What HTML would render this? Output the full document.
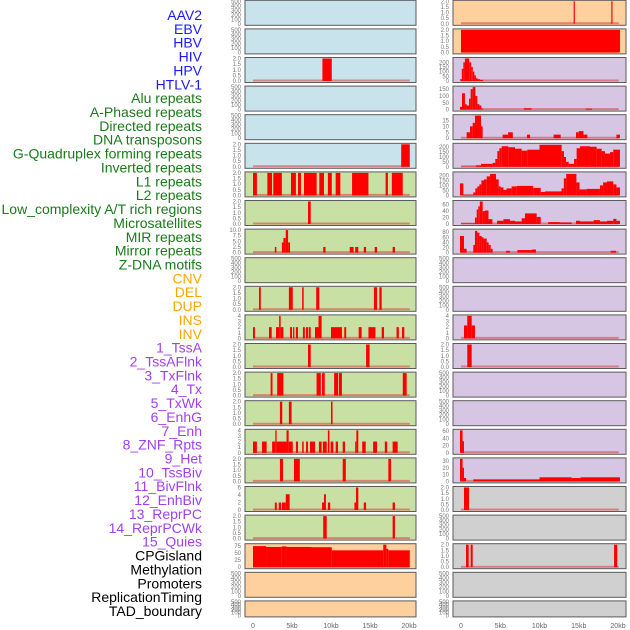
<!DOCTYPE html>
<html><head><meta charset="utf-8"><style>
html,body{margin:0;padding:0;background:#fff;}
svg{display:block;font-family:"Liberation Sans",sans-serif;}
</style></head><body>
<svg id="chart" width="630" height="630" viewBox="0 0 630 630" xmlns="http://www.w3.org/2000/svg"></svg>
<script>
// ---- data ----
const trackLabels = ["AAV2","EBV","HBV","HIV","HPV","HTLV-1","Alu repeats","A-Phased repeats","Directed repeats","DNA transposons","G-Quadruplex forming repeats","Inverted repeats","L1 repeats","L2 repeats","Low_complexity A/T rich regions","Microsatellites","MIR repeats","Mirror repeats","Z-DNA motifs","CNV","DEL","DUP","INS","INV","1_TssA","2_TssAFlnk","3_TxFlnk","4_Tx","5_TxWk","6_EnhG","7_Enh","8_ZNF_Rpts","9_Het","10_TssBiv","11_BivFlnk","12_EnhBiv","13_ReprPC","14_ReprPCWk","15_Quies","CPGisland","Methylation","Promoters","ReplicationTiming","TAD_boundary"];
const labelGroups = [6,13,5,15,5];
const labelColors = ["#1a1aff","#1a7a1a","#ffa500","#a040f0","#000000"];
const xTickValues = [0,5,10,15,20];
const xTickLabels = ["0","5kb","10kb","15kb","20kb"];
const leftBg = ["b","b","b","b","b","b","g","g","g","g","g","g","g","g","g","g","g","g","g","o","o","o"];
const rightBg = ["o","o","p","p","p","p","p","p","p","p","p","p","p","p","p","p","p","y","y","y","y","y"];
const leftYmax = [500,500,2,500,500,2,2,2,10,500,2,4,2,2,2,4,2,6,2,80,500,500];
const rightYmax = [2,2,240,165,19,230,225,70,88,500,500,4,2,500,500,62,33,2,500,2,500,500];
const T2 = ["0.0","0.5","1.0","1.5","2.0"];
const T500 = ["0","100","200","300","400","500"];
const leftTicks = [T500,T500,T2,T500,T500,T2,T2,T2,["0.0","2.5","5.0","7.5","10.0"],T500,T2,["0","1","2","3","4"],T2,T2,T2,["0","1","2","3","4"],T2,["0","2","4","6"],T2,["0","25","50","75"],T500,T500];
const rightTicks = [T2,T2,["0","50","100","150","200"],["0","50","100","150"],["0","5","10","15"],["0","50","100","150","200"],["0","50","100","150","200"],["0","20","40","60"],["0","20","40","60","80"],T500,T500,["0","1","2","3","4"],T2,T500,T500,["0","20","40","60"],["0","10","20","30"],T2,T500,T2,T500,T500];
// segments: [startKb, endKb, value]
const leftSegs = [
 [],[],
 [[8.9,10.1,2]],
 [],[],
 [[19.0,20.1,2]],
 [[0,0.5,2],[1.84,2.44,2],[2.6,3.7,2],[4.87,5.5,2],[5.77,6.15,2],[6.54,8.16,2],[8.5,9.1,2],[9.6,10.1,2],[10.6,11.2,2],[12.7,14.8,2],[17.0,17.3,2],[17.8,19.2,2]],
 [[7.05,7.4,2]],
 [[2.8,3.0,2.5],[3.7,3.9,4.5],[3.9,4.2,6.5],[4.2,4.5,10],[4.5,4.75,4.5],[9.0,9.3,2.5],[12.4,12.9,2.5],[13.1,13.5,2.5],[14.2,14.5,2.5],[15.6,15.9,2.5],[17.9,18.2,2.5]],
 [],
 [[0.77,1.0,2],[4.6,5.1,2],[6.3,6.5,2],[8.1,8.5,2],[15.5,15.9,2],[16.2,16.5,2]],
 [[0,0.25,2],[2.05,2.4,2],[2.95,3.35,2],[3.35,3.55,4],[3.55,3.9,2],[4.75,5.0,2],[5.13,5.3,2],[5.5,5.77,2],[6.4,6.65,2],[6.8,7.05,2],[7.14,7.4,2],[7.95,8.4,2],[8.4,8.8,4],[10.0,11.4,2],[11.7,11.95,2],[13.55,13.93,2],[14.8,15.7,2],[16.5,16.8,2],[18.4,18.7,2],[19.1,19.4,2]],
 [[7.05,7.4,2],[14.5,14.95,2]],
 [[2.26,2.5,2],[3.1,3.9,2],[8.15,8.7,2],[8.85,9.2,2],[10.4,10.9,2],[11.0,11.4,2],[19.2,19.7,2]],
 [[3.45,3.75,2],[4.6,4.95,2],[10.0,10.2,2]],
 [[0,0.5,2],[1.15,1.75,2],[2.45,2.86,2],[2.86,3.03,4],[3.03,4.3,2],[4.3,4.57,4],[4.57,5.1,2],[5.5,5.77,2],[6.3,6.5,2],[6.8,7.05,2],[7.3,7.95,2],[8.45,8.8,2],[8.95,9.45,2],[9.6,9.8,4],[9.95,10.3,2],[10.6,10.9,2],[11.5,11.8,2],[13.1,13.25,2],[13.25,13.5,4],[14.0,14.45,2],[15.4,15.9,2],[16.9,17.2,2],[17.9,18.55,2]],
 [[3.45,3.85,2],[5.25,6.0,2],[11.5,11.9,2],[17.35,17.7,2]],
 [[2.8,3.05,2],[3.3,3.6,2],[3.7,4.2,2],[4.2,4.7,4.2],[8.85,9.1,2],[9.1,9.35,4.2],[9.6,9.9,2],[13.0,13.2,2],[13.2,13.5,6],[14.2,14.5,2],[17.9,18.2,2]],
 [[9.0,9.45,2],[17.9,18.2,2]],
 [[0,1.67,75],[1.67,3.7,72],[3.7,4.3,74],[4.3,7.5,72],[7.5,10.1,71],[10.1,16.7,60],[16.7,17.1,80],[17.1,17.35,65],[17.35,20.1,60]],
 [],[]
];
const rightSegs = [
 [[14.35,14.5,2],[19.15,19.3,2]],
 [[0,20.25,2]],
 [[-0.1,0.1,20],[0.1,0.3,130],[0.3,0.5,200],[0.5,1.05,240],[1.05,1.3,200],[1.3,1.5,150],[1.5,1.7,100],[1.7,1.9,60],[1.9,2.1,30],[2.1,2.4,20],[2.4,2.8,12]],
 [[-0.13,0.13,20],[0.13,0.5,120],[0.5,0.72,40],[0.72,1.02,30],[1.02,1.23,80],[1.23,1.49,150],[1.49,1.83,165],[1.83,2.08,100],[2.08,2.34,40],[2.34,2.59,30],[2.59,2.76,10],[8.0,9.0,10],[15.9,16.7,7]],
 [[0.72,1.15,5],[1.15,1.49,10],[1.49,1.78,13],[1.78,2.55,19],[2.55,2.76,10],[5.3,6.0,3],[6.0,6.6,5],[8.4,8.8,3],[11.8,12.7,3],[14.65,15.0,5],[15.0,15.6,6],[15.6,16.1,3],[19.8,20.25,3]],
 [[0,1.91,3],[1.91,2.55,15],[2.55,4.03,30],[4.03,4.37,40],[4.37,4.63,80],[4.63,4.88,160],[4.88,5.18,190],[5.18,6.03,210],[6.03,6.88,200],[6.88,7.73,185],[7.73,8.45,165],[8.45,10.0,175],[10.0,12.82,225],[12.82,13.12,160],[13.12,13.38,100],[13.38,13.72,50],[13.72,14.4,30],[14.4,14.73,80],[14.73,15.16,190],[15.16,16.43,210],[16.43,17.28,205],[17.28,17.92,185],[17.92,18.34,160],[18.34,18.98,135],[18.98,19.4,150],[19.4,20.25,175]],
 [[-0.13,0.3,120],[0.3,1.57,5],[1.57,1.83,30],[1.83,2.08,70],[2.08,2.34,90],[2.34,2.6,110],[2.6,2.93,150],[2.93,3.27,160],[3.27,3.7,190],[3.7,4.46,215],[4.46,4.8,160],[4.8,5.05,90],[5.05,5.4,80],[5.4,5.8,55],[5.8,6.45,70],[6.45,7.1,90],[7.1,9.2,95],[9.2,10.15,75],[10.15,10.7,35],[10.7,12.8,40],[12.8,13.1,70],[13.1,13.4,170],[13.4,14.7,215],[14.7,15.1,130],[15.1,16.0,60],[16.0,17.7,65],[17.7,18.1,100],[18.1,18.6,130],[18.6,19.4,140],[19.4,19.8,110],[19.8,20.25,80]],
 [[0,1.78,2],[1.78,2.0,20],[2.0,2.2,45],[2.2,2.4,55],[2.4,2.76,70],[2.76,3.05,40],[3.05,3.5,42],[3.5,4.0,15],[4.6,5.4,10],[5.4,6.24,15],[6.24,6.88,10],[6.88,7.73,8],[7.73,8.15,18],[8.15,9.64,33],[9.64,10.15,22],[11.1,12.6,6],[12.6,14.1,5],[14.65,15.16,10],[15.16,16.9,8],[16.9,17.7,12],[17.7,18.6,8],[18.6,19.4,10],[19.4,19.8,16],[19.8,20.25,10]],
 [[-0.13,0.38,65],[0.38,0.72,15],[1.57,1.78,30],[1.78,2.08,85],[2.08,2.34,78],[2.34,2.63,65],[2.63,2.85,60],[2.85,3.27,55],[3.27,3.52,40],[3.52,3.78,30],[3.78,4.03,15],[5.73,6.24,7],[7.18,9.0,10],[9.0,9.55,12],[19.07,19.75,7]],
 [],[],
 [[0.38,0.8,2.3],[0.8,1.36,4],[1.36,1.78,2.3]],
 [[0.8,1.36,2]],
 [],[],
 [[-0.13,0.2,62],[0.2,0.38,32]],
 [[-0.13,0.2,33],[0.2,0.38,20],[0.38,0.64,5],[1.57,10.0,3],[10.0,14.1,6],[14.1,15.24,5],[15.24,20.25,6]],
 [[0.38,1.02,2]],
 [],
 [[0.64,0.98,2],[1.23,1.49,2],[19.5,19.9,2]],
 [],[]
];
// ---- layout ----
const NS = "http://www.w3.org/2000/svg";
const svg = document.getElementById("chart");
const bgColors = {b:"#c8e3eb",g:"#c8e0a4",o:"#fdd09e",p:"#d6c5e3",y:"#d0d0d0"};
const cols = [{x0:245,x1:416,k0:253,k1:409,ymax:leftYmax,ticks:leftTicks,segs:leftSegs,bg:leftBg,side:"left"},
              {x0:453,x1:626,k0:461,k1:618,ymax:rightYmax,ticks:rightTicks,segs:rightSegs,bg:rightBg,side:"right"}];
function mk(tag, attrs, parent){const e=document.createElementNS(NS,tag);for(const k in attrs)e.setAttribute(k,attrs[k]);(parent||svg).appendChild(e);return e;}
function rowTop(i){return 0.3+28.6*i;}
function rowH(i){return i===21?16:25;}

// labels
let li=0;
labelGroups.forEach((n,g)=>{for(let j=0;j<n;j++){
  const t=mk("text",{x:202,y:20+li*13.86,"text-anchor":"end","font-size":"14",fill:labelColors[g]});
  t.textContent=trackLabels[li];
  
  
  li++;}});

cols.forEach(c=>{
  const xs=kb=>c.k0+(kb/20)*(c.k1-c.k0);
  for(let i=0;i<22;i++){
    const top=rowTop(i),h=rowH(i);
    const g=mk("g",{});
    
    
    mk("rect",{x:c.x0,y:top,width:c.x1-c.x0,height:h,fill:bgColors[c.bg[i]],stroke:"#5a5a5a","stroke-width":"1"},g);
    const y0=top+h-1.5,yT=top+1,ym=c.ymax[i];
    const ys=v=>y0-(v/ym)*(y0-yT);
    // ticks
    const tl=c.ticks[i];
    tl.forEach(s=>{const v=parseFloat(s);
      const t=mk("text",{x:c.x0-4,y:ys(v)+2,"text-anchor":"end","font-size":"6",fill:"#777"},g);
      t.textContent=s;
      
      });
    const segs=c.segs[i];
    if(segs.length){
      const bl=mk("line",{x1:xs(0),x2:xs(20.1),y1:y0-0.5,y2:y0-0.5,stroke:"rgba(220,60,60,0.55)","stroke-width":"2"},g);
      
      
      segs.forEach(s=>{
        const a=Math.max(xs(s[0]),c.x0+1),b=Math.min(xs(s[1]),c.x1-1);
        const r=mk("rect",{x:a,y:ys(s[2]),width:Math.max(b-a,1),height:y0-ys(s[2]),fill:"#ff0000"},g);
        
        
      });
    }
  }
  xTickValues.forEach((v,k)=>{
    const t=mk("text",{x:xs(v),y:628,"text-anchor":"middle","font-size":"7",fill:"#666"});
    t.textContent=xTickLabels[k];
    
    
  });
});
</script>
</body></html>
